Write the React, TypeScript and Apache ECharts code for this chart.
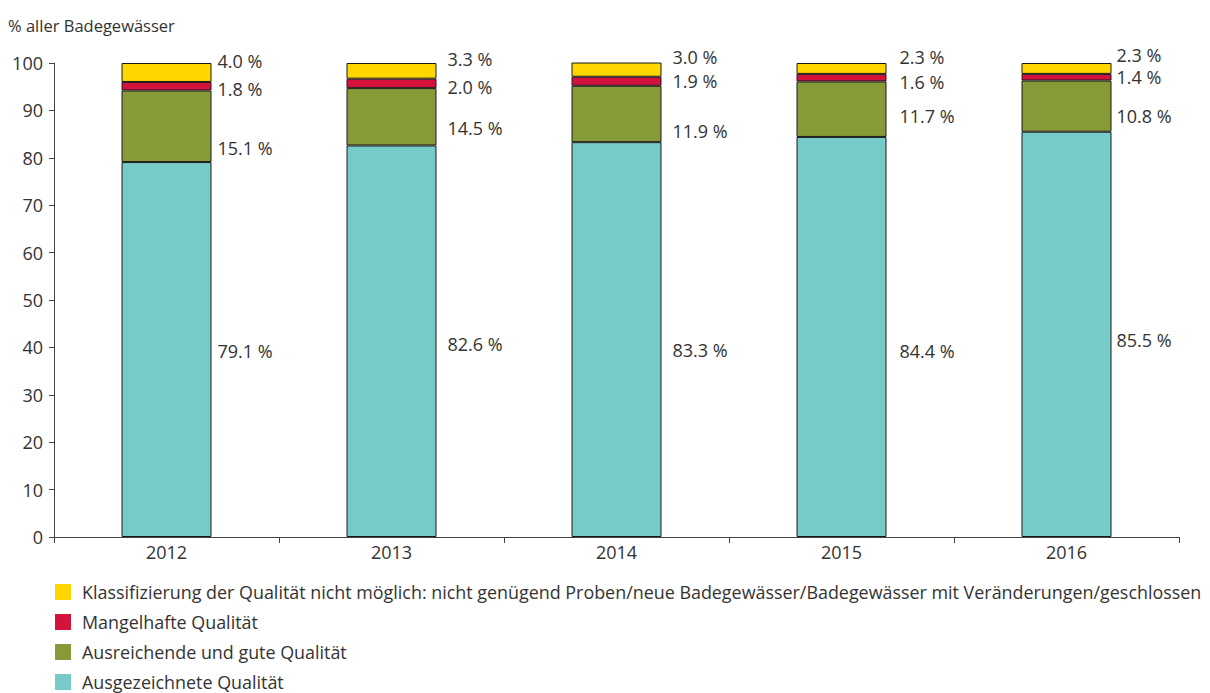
import React, { useEffect, useRef } from "react";
import * as echarts from "echarts";

const years = ["2012", "2013", "2014", "2015", "2016"];
const seriesNames = [
  "Ausgezeichnete Qualität",
  "Ausreichende und gute Qualität",
  "Mangelhafte Qualität",
  "Klassifizierung der Qualität nicht möglich: nicht genügend Proben/neue Badegewässer/Badegewässer mit Veränderungen/geschlossen",
];
const excellent = [79.1, 82.6, 83.3, 84.4, 85.5];
const sufficientGood = [15.1, 12.1, 11.9, 11.7, 10.8];
const poor = [1.8, 2.0, 1.9, 1.6, 1.4];
const notClassified = [4.0, 3.3, 3.0, 2.3, 2.3];
// printed label values (the source labels 2013 with 14.5 %)
const excellentLabels = [79.1, 82.6, 83.3, 84.4, 85.5];
const sufficientGoodLabels = [15.1, 14.5, 11.9, 11.7, 10.8];
const poorLabels = [1.8, 2.0, 1.9, 1.6, 1.4];
const notClassifiedLabels = [4.0, 3.3, 3.0, 2.3, 2.3];
const yTicks = { min: 0, max: 100, interval: 10 };

const colors = ["#76CBC9", "#879A38", "#D4123E", "#FFD600"];
const labelDx = [1, 6, 6, 8, 0];
const labelDy = [
  [1, 3, 10, 14, 6],
  [22, 11, 17, 7, 10],
  [3, 4, 0, 4, 0],
  [-11, -12, -13, -11, -13],
];

const FONT = "'Open Sans', 'Noto Sans', sans-serif";

export default function App() {
  const ref = useRef<HTMLDivElement>(null);
  useEffect(() => {
    if (!ref.current) return;
    const chart = echarts.init(ref.current, undefined, { renderer: "svg" });
    const values = [excellent, sufficientGood, poor, notClassified];
    const labels = [excellentLabels, sufficientGoodLabels, poorLabels, notClassifiedLabels];
    const series = values.map((vals, s) => ({
      name: seriesNames[s],
      type: "bar",
      stack: "total",
      barWidth: 90,
      itemStyle: { color: colors[s], borderColor: "#1a1a1a", borderWidth: 1 },
      label: {
        show: true,
        position: "right",
        distance: 5,
        fontFamily: FONT,
        fontSize: 18,
        color: "#333",
        formatter: (p: any) => labels[s][p.dataIndex].toFixed(1) + " %",
      },
      data: vals.map((v, i) => ({
        value: v,
        label: { offset: [labelDx[i], labelDy[s][i]] },
      })),
    }));
    chart.setOption({
      animation: false,
      textStyle: { fontFamily: FONT },
      title: {
        text: "% aller Badegewässer",
        left: 3,
        top: 12,
        textStyle: { fontFamily: FONT, fontSize: 16.5, fontWeight: "normal", color: "#333" },
      },
      grid: { left: 54, right: 31, top: 63, bottom: 156, containLabel: false },
      legend: {
        orient: "vertical",
        left: 55,
        top: 583,
        height: 140,
        padding: 0,
        itemWidth: 16,
        itemHeight: 16,
        itemGap: 12,
        icon: "rect",
        data: [seriesNames[3], seriesNames[2], seriesNames[1], seriesNames[0]],
        textStyle: { fontFamily: FONT, fontSize: 17.9, color: "#333", padding: [0, 0, 0, 6] },
        itemStyle: { borderWidth: 0 },
      },
      xAxis: {
        type: "category",
        data: years,
        axisLine: { lineStyle: { color: "#444", width: 1 } },
        axisTick: { show: true, length: 6, lineStyle: { color: "#444" } },
        axisLabel: { fontFamily: FONT, fontSize: 18, color: "#333", margin: 6 },
      },
      yAxis: {
        type: "value",
        min: yTicks.min,
        max: yTicks.max,
        interval: yTicks.interval,
        splitLine: { show: false },
        axisLine: { show: true, lineStyle: { color: "#444", width: 1 } },
        axisTick: { show: true, length: 5, lineStyle: { color: "#444" } },
        axisLabel: { fontFamily: FONT, fontSize: 18, color: "#333", margin: 11 },
      },
      series,
    });
    return () => chart.dispose();
  }, []);
  return (
    <div
      ref={ref}
      style={{ position: "fixed", left: 0, top: 0, width: 1210, height: 693, background: "#fff" }}
    />
  );
}
